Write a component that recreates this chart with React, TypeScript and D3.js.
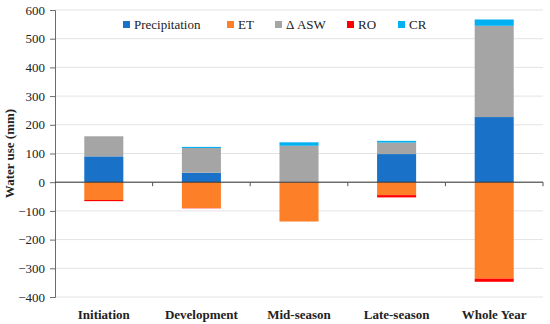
import { useEffect, useRef } from 'react';
import * as d3 from 'd3';

const categories = ['Initiation', 'Development', 'Mid-season', 'Late-season', 'Whole Year'];
const precipitation = [90, 33, 2, 98, 227];
const et = [-62, -90, -137, -45, -336];
const deltaAsw = [70, 86, 125, 40, 318];
const ro = [-4, -1, 0, -8, -11];
const cr = [0, 4, 12, 6, 22];
const yTicks = [600, 500, 400, 300, 200, 100, 0, -100, -200, -300, -400];

const SERIES = [
  { key: 'precipitation', label: 'Precipitation', color: '#1a72c8', values: precipitation },
  { key: 'et', label: 'ET', color: '#fd7f28', values: et },
  { key: 'asw', label: '\u0394 ASW', color: '#a5a5a5', values: deltaAsw },
  { key: 'ro', label: 'RO', color: '#ff0000', values: ro },
  { key: 'cr', label: 'CR', color: '#00b0f0', values: cr },
];

const W = 550, H = 324;
const MARGIN = { top: 10, right: 7, bottom: 27, left: 55 };
const FONT = '"Liberation Serif", serif';

export default function App() {
  const svgRef = useRef<SVGSVGElement>(null);

  useEffect(() => {
    const svg = d3.select(svgRef.current);
    svg.selectAll('*').remove();

    const w = W - MARGIN.left - MARGIN.right;
    const h = H - MARGIN.top - MARGIN.bottom;
    const g = svg.append('g').attr('transform', `translate(${MARGIN.left},${MARGIN.top})`);

    const x = d3.scaleBand().domain(categories).range([0, w]).paddingInner(0.6).paddingOuter(0.3);
    const y = d3.scaleLinear().domain([-400, 600]).range([h, 0]);

    // rows for stacking
    const rows = categories.map((c, i) => {
      const r: any = { cat: c };
      SERIES.forEach(s => { r[s.key] = s.values[i]; });
      return r;
    });
    // positive: precipitation, asw, cr ; negative: et, ro
    const stackKeys = ['precipitation', 'asw', 'cr', 'et', 'ro'];
    const stacked = d3.stack().keys(stackKeys).offset(d3.stackOffsetDiverging)(rows);

    // Gridlines
    g.append('g').selectAll('line').data(yTicks).join('line')
      .attr('x1', 0).attr('x2', w)
      .attr('y1', d => y(d)).attr('y2', d => y(d))
      .attr('stroke', '#e3e3e3').attr('stroke-width', 1);

    // Bars
    stacked.forEach(layer => {
      const s = SERIES.find(s => s.key === layer.key)!;
      g.append('g').selectAll('rect').data(layer).join('rect')
        .attr('x', d => x((d.data as any).cat)!)
        .attr('width', x.bandwidth())
        .attr('y', d => y(Math.max(d[0], d[1])))
        .attr('height', d => Math.abs(y(d[0]) - y(d[1])))
        .attr('fill', s.color);
    });

    // Y axis
    const yAxis = g.append('g')
      .attr('font-family', FONT)
      .call(d3.axisLeft(y).tickValues(yTicks).tickSize(5).tickPadding(5).tickFormat(d3.format('d')));
    yAxis.attr('font-family', FONT).attr('font-size', 13);
    yAxis.select('.domain').attr('stroke', '#6b6b6b');
    yAxis.selectAll('.tick line').attr('stroke', '#6b6b6b');
    yAxis.selectAll('text').attr('fill', '#222');

    // Zero line with category separators
    g.append('line').attr('x1', 0).attr('x2', w).attr('y1', y(0)).attr('y2', y(0))
      .attr('stroke', '#333').attr('stroke-width', 1);
    const bounds = d3.range(1, categories.length + 1).map(i => i * (w / categories.length));
    g.append('g').selectAll('line').data(bounds).join('line')
      .attr('x1', d => d).attr('x2', d => d)
      .attr('y1', y(0)).attr('y2', y(0) + 4)
      .attr('stroke', '#555');

    // Category labels
    g.append('g').selectAll('text').data(categories).join('text')
      .attr('x', d => x(d)! + x.bandwidth() / 2)
      .attr('y', h + 22)
      .attr('text-anchor', 'middle')
      .attr('font-family', FONT).attr('font-size', 13).attr('font-weight', 'bold')
      .attr('fill', '#222')
      .text(d => d);

    // Y label
    svg.append('text')
      .attr('transform', `translate(14,${MARGIN.top + h / 2}) rotate(-90)`)
      .attr('text-anchor', 'middle')
      .attr('font-family', FONT).attr('font-size', 13).attr('font-weight', 'bold')
      .attr('fill', '#222')
      .text('Water use (mm)');

    // Legend
    const legendX = [123, 227, 275, 347, 398];
    const legend = svg.append('g');
    SERIES.forEach((s, i) => {
      const item = legend.append('g').attr('transform', `translate(${legendX[i]},25)`);
      item.append('rect').attr('x', 0).attr('y', -4).attr('width', 7).attr('height', 7).attr('fill', s.color);
      item.append('text').attr('x', 11).attr('y', 4)
        .attr('font-family', FONT).attr('font-size', 13).attr('fill', '#222')
        .text(s.label);
    });
  }, []);

  return <svg ref={svgRef} width={W} height={H} style={{ position: 'absolute', left: 0, top: 0, background: '#fff' }} />;
}
